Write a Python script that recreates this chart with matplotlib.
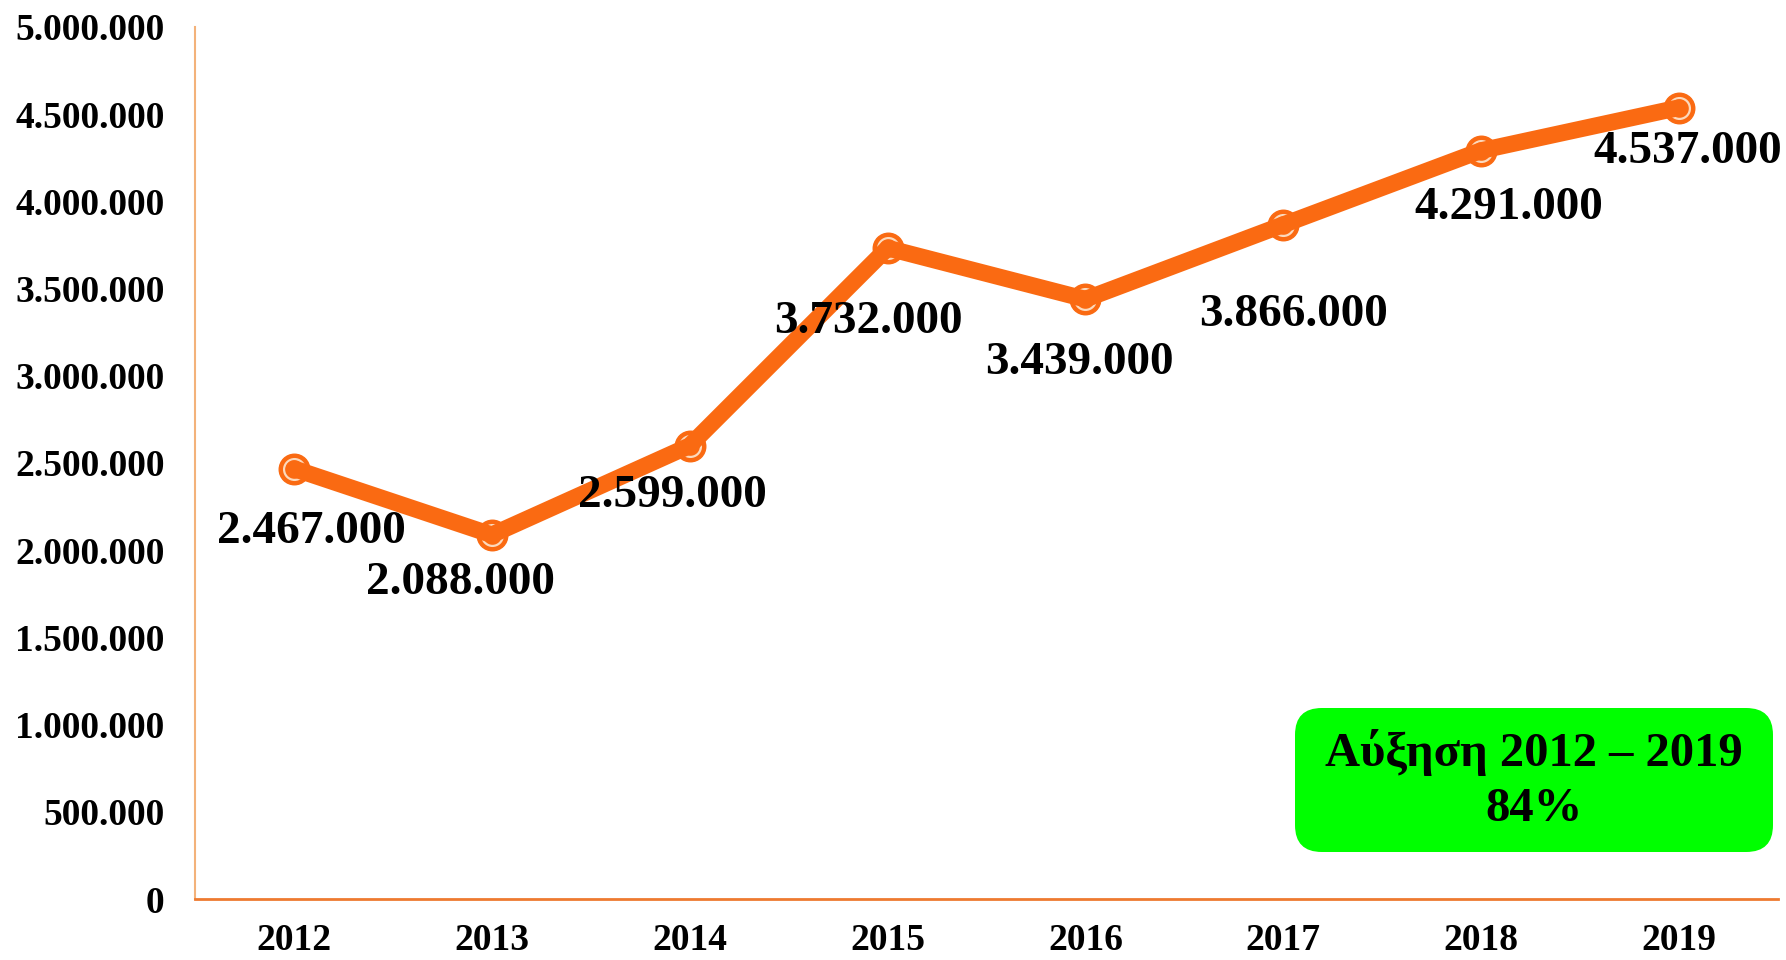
import matplotlib.pyplot as plt
from matplotlib.patches import FancyBboxPatch
from matplotlib.ticker import FuncFormatter

# -----------------------------
# Data
# -----------------------------
years = ["2012", "2013", "2014", "2015", "2016", "2017", "2018", "2019"]
values = [2467000, 2088000, 2599000, 3732000, 3439000, 3866000, 4291000, 4537000]
y_ticks = [0, 500000, 1000000, 1500000, 2000000, 2500000, 3000000, 3500000, 4000000, 4500000, 5000000]
box_text = "Αύξηση 2012 – 2019\n84%"

# label offsets in pixels (labels were placed by hand in the original)
label_dx = [17, -31, -17, -19, -6, 10, 28, 9]
label_dy = [-63, -48, -50, -74, -64, -90, -57, -44]


def dotted(v, pos=None):
    return f"{int(v):,}".replace(",", ".")


plt.rcParams['font.family'] = ['Liberation Serif', 'DejaVu Serif']
plt.rcParams['font.weight'] = 'bold'

fig = plt.figure(figsize=(17.86, 9.6), dpi=100)
ax = fig.add_axes([0.1092, 0.0635, 0.8863, 0.9085])

line_color = "#FA6A12"
x = list(range(len(years)))
# base markers, light inner ring, then the line over them
ax.plot(x, values, linestyle="none", marker="o", markersize=22,
        markerfacecolor=line_color, markeredgecolor=line_color, zorder=2)
ax.plot(x, values, linestyle="none", marker="o", markersize=15,
        markerfacecolor="none", markeredgecolor="#FCD9BC", markeredgewidth=1.6, zorder=2.5)
ax.plot(x, values, color=line_color, linewidth=12, solid_capstyle="round",
        solid_joinstyle="round", zorder=3)

for i, v in enumerate(values):
    ax.annotate(dotted(v), (i, v), xytext=(label_dx[i], label_dy[i]),
                textcoords="offset pixels", ha="center", va="center",
                fontsize=34, fontweight="bold", color="black", zorder=4)

ax.set_xlim(-0.5, len(years) - 0.5)
ax.set_ylim(0, 5000000)
ax.set_xticks(x)
ax.set_xticklabels(years)
ax.set_yticks(y_ticks)
ax.yaxis.set_major_formatter(FuncFormatter(dotted))
ax.tick_params(axis="both", length=0, labelsize=27)
ax.tick_params(axis="y", pad=22)
ax.tick_params(axis="x", pad=17)

for s in ["top", "right"]:
    ax.spines[s].set_visible(False)
ax.spines["left"].set_color("#F3B27A")
ax.spines["left"].set_linewidth(1.5)
ax.spines["bottom"].set_color("#EE7A30")
ax.spines["bottom"].set_linewidth(2)

# green summary box
bx0, by0 = 1295 / 1786, 1 - 852 / 960
bw, bh = (1773 - 1295) / 1786, (852 - 708) / 960
box = FancyBboxPatch((bx0, by0), bw, bh, boxstyle="round,pad=0,rounding_size=0.015",
                     transform=fig.transFigure, facecolor="#00FF00", edgecolor="none",
                     mutation_aspect=1786 / 960, zorder=5)
fig.patches.append(box)
fig.text(bx0 + bw / 2, by0 + bh / 2, box_text, ha="center", va="center",
         fontsize=35, fontweight="bold", linespacing=1.35, zorder=6)

fig.savefig("out.png", dpi=100)
